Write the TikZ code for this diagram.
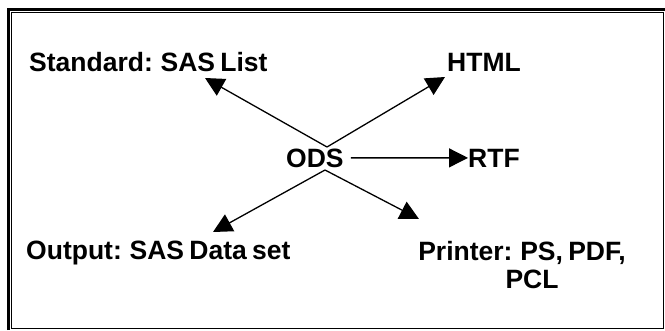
\documentclass[tikz,border=0pt]{standalone}
\usepackage{fontspec}
\setmainfont{Liberation Sans}
\usetikzlibrary{arrows.meta}

\newcommand{\lblfont}{\fontsize{26.5}{28}\selectfont\bfseries
    \spaceskip=0.2em\relax}

\begin{document}
\begin{tikzpicture}[x=1pt, y=-1pt,
        lbl/.style={inner sep=0pt, anchor=base west, font=\lblfont},
        arr/.style={line width=1.3pt, -{Triangle[length=19pt,width=19pt]}}]
    \useasboundingbox (0,0) rectangle (665,330);
    % frame
    \draw[line width=2.6pt] (8.3,330) -- (8.3,9.3) -- (665,9.3);
    \draw[line width=1.3pt] (11.8,12.8) rectangle (663.2,328.3);
    % labels
    \node[lbl] (std) at (29,71) {Standard: SAS List};
    \node[lbl] (html) at (447,71) {HTML};
    \node[lbl] (ods) at (286,167) {ODS};
    \node[lbl] (rtf) at (468,167) {RTF};
    \node[lbl] (out) at (26,259) {Output: SAS Data set};
    \node[lbl, anchor=base, align=center] (prn) at (522,288)
        {Printer: PS, PDF,\\ \hspace*{20pt}PCL};
    % arrow ends
    \coordinate (hub top) at (327,147);
    \coordinate (hub bot) at (325,170);
    \coordinate (std tip) at (205,78);
    \coordinate (html tip) at (445,77);
    \coordinate (out tip) at (213,232);
    \coordinate (prn tip) at (419,219);
    % arrows
    \draw[arr] (hub top) -- (std tip);
    \draw[arr] (hub top) -- (html tip);
    \draw[arr] (ods.east) ++(7,0) coordinate (ods out) -- (rtf.west);
    \draw[arr] (hub bot) -- (out tip);
    \draw[arr] (hub bot) -- (prn tip);
\end{tikzpicture}
\end{document}
